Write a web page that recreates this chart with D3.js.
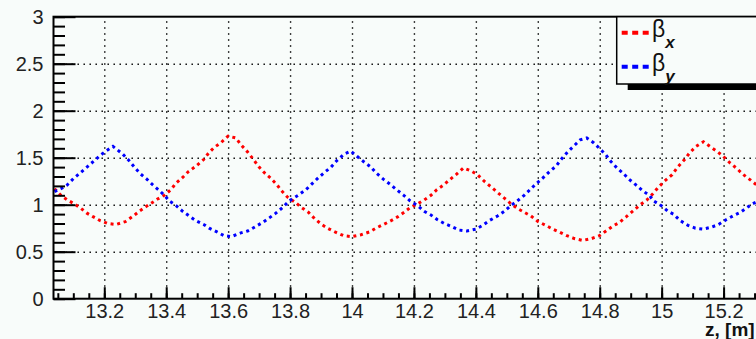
<!DOCTYPE html>
<html>
<head>
<meta charset="utf-8">
<script src="https://cdn.jsdelivr.net/npm/d3@7"></script>
<style>
  html, body { margin: 0; padding: 0; background: #f8fcfa; }
  svg { display: block; }
  text { font-family: "Liberation Sans", Arial, Helvetica, sans-serif; }
</style>
</head>
<body>
<script>
// Beta functions along the lattice
const zX = [13.039, 13.060, 13.081, 13.103, 13.125, 13.144, 13.165, 13.187, 13.211, 13.238,
  13.268, 13.294, 13.313, 13.335, 13.354, 13.372, 13.394, 13.415, 13.432, 13.453,
  13.471, 13.496, 13.521, 13.537, 13.555, 13.577, 13.600, 13.625, 13.641, 13.663,
  13.682, 13.700, 13.717, 13.738, 13.758, 13.772, 13.792, 13.819, 13.837, 13.859,
  13.880, 13.902, 13.921, 13.945, 13.973, 13.999, 14.029, 14.056, 14.077, 14.102,
  14.126, 14.147, 14.169, 14.188, 14.212, 14.233, 14.255, 14.274, 14.296, 14.317,
  14.336, 14.360, 14.384, 14.405, 14.427, 14.449, 14.470, 14.492, 14.513, 14.534,
  14.556, 14.578, 14.601, 14.626, 14.648, 14.669, 14.694, 14.718, 14.745, 14.774,
  14.799, 14.820, 14.841, 14.863, 14.885, 14.906, 14.931, 14.952, 14.970, 14.988,
  15.009, 15.034, 15.052, 15.074, 15.090, 15.111, 15.135, 15.160, 15.182, 15.200,
  15.219, 15.241, 15.264, 15.284, 15.303, 15.325];
const betaX = [1.17, 1.10, 1.05, 1.01, 0.96, 0.91, 0.87, 0.83, 0.80, 0.79,
  0.82, 0.88, 0.93, 0.98, 1.02, 1.06, 1.10, 1.16, 1.23, 1.29,
  1.35, 1.41, 1.48, 1.55, 1.61, 1.66, 1.73, 1.71, 1.64, 1.56,
  1.48, 1.40, 1.34, 1.28, 1.21, 1.15, 1.08, 1.02, 0.97, 0.92,
  0.85, 0.79, 0.75, 0.71, 0.67, 0.66, 0.68, 0.71, 0.75, 0.79,
  0.83, 0.87, 0.92, 0.97, 1.01, 1.05, 1.10, 1.16, 1.21, 1.27,
  1.32, 1.39, 1.36, 1.32, 1.25, 1.19, 1.13, 1.07, 1.01, 0.96,
  0.92, 0.88, 0.82, 0.78, 0.74, 0.71, 0.67, 0.64, 0.62, 0.64,
  0.67, 0.72, 0.77, 0.81, 0.87, 0.93, 1.00, 1.05, 1.11, 1.18,
  1.25, 1.32, 1.40, 1.48, 1.55, 1.62, 1.67, 1.61, 1.56, 1.51,
  1.45, 1.39, 1.32, 1.27, 1.22, 1.16];

const zY = [13.039, 13.060, 13.080, 13.101, 13.123, 13.144, 13.165, 13.185, 13.205, 13.228,
  13.259, 13.277, 13.297, 13.316, 13.338, 13.357, 13.378, 13.394, 13.410, 13.432,
  13.453, 13.474, 13.496, 13.521, 13.539, 13.564, 13.587, 13.610, 13.641, 13.663,
  13.690, 13.711, 13.733, 13.754, 13.776, 13.797, 13.826, 13.851, 13.867, 13.889,
  13.910, 13.932, 13.951, 13.975, 13.996, 14.018, 14.037, 14.061, 14.077, 14.102,
  14.126, 14.144, 14.167, 14.188, 14.212, 14.233, 14.255, 14.276, 14.298, 14.320,
  14.346, 14.371, 14.400, 14.422, 14.443, 14.470, 14.492, 14.513, 14.534, 14.556,
  14.578, 14.594, 14.615, 14.637, 14.659, 14.675, 14.696, 14.718, 14.737, 14.758,
  14.780, 14.802, 14.820, 14.836, 14.856, 14.877, 14.895, 14.917, 14.938, 14.960,
  14.974, 14.999, 15.020, 15.038, 15.060, 15.085, 15.109, 15.133, 15.160, 15.184,
  15.208, 15.230, 15.255, 15.276, 15.294, 15.325];
const betaY = [1.14, 1.17, 1.21, 1.28, 1.34, 1.40, 1.46, 1.52, 1.57, 1.62,
  1.54, 1.48, 1.40, 1.33, 1.27, 1.21, 1.15, 1.10, 1.04, 0.99,
  0.93, 0.88, 0.83, 0.79, 0.75, 0.71, 0.67, 0.66, 0.70, 0.72,
  0.77, 0.81, 0.86, 0.91, 0.97, 1.04, 1.10, 1.16, 1.21, 1.28,
  1.34, 1.40, 1.47, 1.54, 1.57, 1.51, 1.46, 1.40, 1.34, 1.27,
  1.21, 1.16, 1.10, 1.04, 0.99, 0.93, 0.89, 0.84, 0.80, 0.77,
  0.73, 0.72, 0.74, 0.78, 0.83, 0.88, 0.93, 0.99, 1.04, 1.10,
  1.17, 1.22, 1.28, 1.35, 1.41, 1.48, 1.56, 1.63, 1.69, 1.71,
  1.66, 1.59, 1.53, 1.46, 1.39, 1.33, 1.27, 1.21, 1.15, 1.10,
  1.04, 0.99, 0.93, 0.90, 0.83, 0.78, 0.75, 0.74, 0.76, 0.79,
  0.84, 0.88, 0.92, 0.97, 1.01, 1.06];

const xTickValues = [13.2, 13.4, 13.6, 13.8, 14.0, 14.2, 14.4, 14.6, 14.8, 15.0, 15.2];
const xTickLabels = ["13.2", "13.4", "13.6", "13.8", "14", "14.2", "14.4", "14.6", "14.8", "15", "15.2"];
const yTickValues = [0, 0.5, 1, 1.5, 2, 2.5, 3];
const yTickLabels = ["0", "0.5", "1", "1.5", "2", "2.5", "3"];
const legendLabels = [{ sym: "β", sub: "x" }, { sym: "β", sub: "y" }];
const seriesColors = ["#ff0000", "#0000ff"];
const xTitle = "z, [m]";

const W = 756, H = 339;
const frame = { left: 53.5, top: 16.7, bottom: 298.7, right: 790 };

const x = d3.scaleLinear().domain([13.036, 13.036 + (frame.right - frame.left) / 309.65])
  .range([frame.left, frame.right]);
const y = d3.scaleLinear().domain([0, 3]).range([frame.bottom, frame.top]);

const svg = d3.select("body").append("svg").attr("width", W).attr("height", H);
svg.append("rect").attr("width", W).attr("height", H).attr("fill", "#f8fcfa");

const plotW = frame.right - frame.left, plotH = frame.bottom - frame.top;

svg.append("defs").append("clipPath").attr("id", "plotclip")
  .append("rect").attr("x", frame.left).attr("y", frame.top).attr("width", plotW).attr("height", plotH);

// grid
const gridX = svg.append("g").attr("transform", `translate(0,${frame.bottom})`)
  .call(d3.axisBottom(x).tickValues(xTickValues).tickSize(-plotH).tickFormat(""));
const gridY = svg.append("g").attr("transform", `translate(${frame.left},0)`)
  .call(d3.axisLeft(y).tickValues(yTickValues.slice(1, -1)).tickSize(-plotW).tickFormat(""));
[gridX, gridY].forEach(g => {
  g.select(".domain").remove();
  g.selectAll("line").attr("stroke", "#000").attr("stroke-width", 1.4).attr("stroke-dasharray", "1.4,4.6");
});

// curves
const line = d3.line().x(d => x(d[0])).y(d => y(d[1]));
const curves = svg.append("g").attr("clip-path", "url(#plotclip)");
[[zX, betaX], [zY, betaY]].forEach(([zs, bs], i) => {
  curves.append("path")
    .datum(zs.map((z, k) => [z, bs[k]]))
    .attr("d", line)
    .attr("fill", "none")
    .attr("stroke", seriesColors[i])
    .attr("stroke-width", 3)
    .attr("stroke-dasharray", "3,3.7");
});

// axes
const minorX = d3.range(13.05, 15.4, 0.05).filter(v => v <= x.domain()[1]);
const minorY = d3.range(0, 3.001, 0.1);
const axMinorX = svg.append("g").attr("transform", `translate(0,${frame.bottom})`)
  .call(d3.axisBottom(x).tickValues(minorX).tickSize(-5.5).tickFormat(""));
const axMinorY = svg.append("g").attr("transform", `translate(${frame.left},0)`)
  .call(d3.axisLeft(y).tickValues(minorY).tickSize(-11.5).tickFormat(""));
const axX = svg.append("g").attr("transform", `translate(0,${frame.bottom})`)
  .call(d3.axisBottom(x).tickValues(xTickValues).tickSize(-11.5).tickPadding(5)
    .tickFormat((d, i) => xTickLabels[i]));
const axY = svg.append("g").attr("transform", `translate(${frame.left},0)`)
  .call(d3.axisLeft(y).tickValues(yTickValues).tickSize(-22).tickPadding(10)
    .tickFormat((d, i) => yTickLabels[i]));
[axMinorX, axMinorY, axX, axY].forEach(g => {
  g.select(".domain").remove();
  g.selectAll("line").attr("stroke", "#000").attr("stroke-width", 2);
  g.selectAll("text").attr("font-size", 20).attr("fill", "#222")
    .attr("font-family", "'Liberation Sans', Arial, sans-serif");
});

// frame
svg.append("rect").attr("x", frame.left).attr("y", frame.top)
  .attr("width", plotW).attr("height", plotH)
  .attr("fill", "none").attr("stroke", "#000").attr("stroke-width", 2);

// axis title
svg.append("text").attr("x", 705).attr("y", 336)
  .attr("font-size", 19).attr("font-weight", "bold").attr("fill", "#111").text(xTitle);

// legend
const leg = { x: 616.7, y: 16.7, w: 200, h: 67.3 };
svg.append("rect").attr("x", leg.x + 11).attr("y", leg.y + 6).attr("width", leg.w).attr("height", leg.h)
  .attr("fill", "#000");
svg.append("rect").attr("x", leg.x).attr("y", leg.y).attr("width", leg.w).attr("height", leg.h)
  .attr("fill", "#f8fcfa").attr("stroke", "#000").attr("stroke-width", 1.5);
const rowY = [32.7, 66.7];
legendLabels.forEach((d, i) => {
  svg.append("line").attr("x1", 621.7).attr("x2", 649).attr("y1", rowY[i]).attr("y2", rowY[i])
    .attr("stroke", seriesColors[i]).attr("stroke-width", 4).attr("stroke-dasharray", "6,4.5");
  const t = svg.append("text").attr("x", 652).attr("y", rowY[i] + 4)
    .attr("font-size", 23).attr("fill", "#111");
  t.append("tspan").text(d.sym);
  t.append("tspan").attr("dy", 11).attr("font-size", 17).attr("font-weight", "bold")
    .attr("font-style", "italic").text(d.sub);
});
</script>
</body>
</html>
